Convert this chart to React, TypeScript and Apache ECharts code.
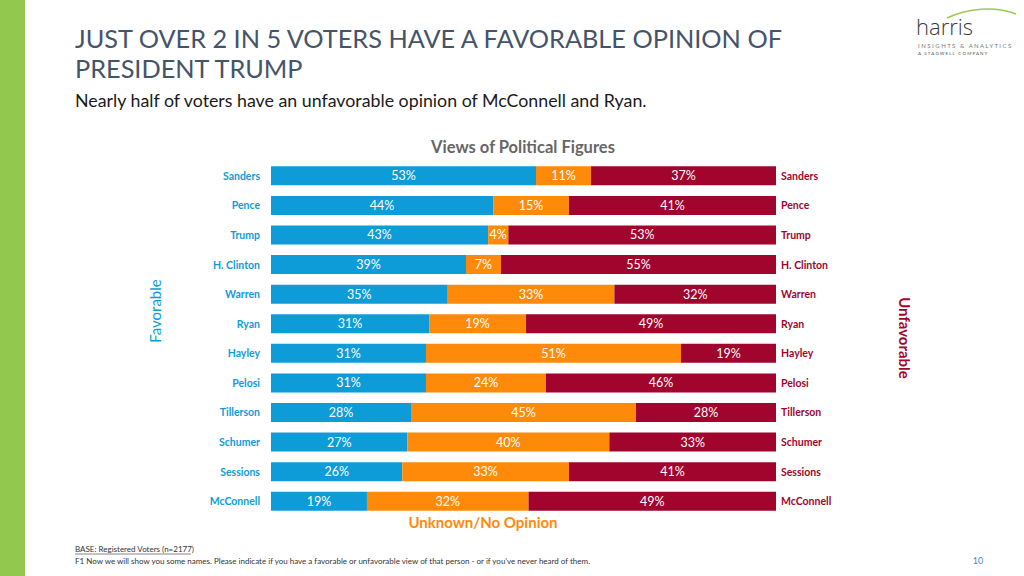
import React, { useEffect, useRef } from "react";
import * as echarts from "echarts";

const categories = ["Sanders", "Pence", "Trump", "H. Clinton", "Warren", "Ryan", "Hayley", "Pelosi", "Tillerson", "Schumer", "Sessions", "McConnell"];
const favorable = [53, 44, 43, 39, 35, 31, 31, 31, 28, 27, 26, 19];
const unknown = [11, 15, 4, 7, 33, 19, 51, 24, 45, 40, 33, 32];
const unfavorable = [37, 41, 53, 55, 32, 49, 19, 46, 28, 33, 41, 49];

const BLUE = "#0E9CD8";
const ORANGE = "#FF8A0A";
const RED = "#A1042D";
const FONT = "Lato, 'Open Sans', sans-serif";

export default function App() {
  const ref = useRef<HTMLDivElement>(null);
  useEffect(() => {
    if (!ref.current) return;
    const chart = echarts.init(ref.current, null, { renderer: "svg" });
    const totals = categories.map((_, i) => favorable[i] + unknown[i] + unfavorable[i]);
    const norm = (arr: number[]) => arr.map((v, i) => ({ value: (v / totals[i]) * 100, raw: v }));
    const mk = (name: string, arr: number[], color: string) => ({
      name,
      type: "bar",
      stack: "all",
      barWidth: 19,
      data: norm(arr),
      itemStyle: { color },
      label: {
        show: true,
        position: "inside",
        color: "#fff",
        fontSize: 12.5,
        fontFamily: FONT,
        formatter: (p: any) => p.data.raw + "%",
      },
    });
    chart.setOption({
      animation: false,
      backgroundColor: "#fff",
      grid: { left: 271, width: 505, top: 161, height: 355 },
      xAxis: { type: "value", min: 0, max: 100, show: false },
      yAxis: [
        {
          type: "category",
          data: categories,
          inverse: true,
          axisLine: { show: false },
          axisTick: { show: false },
          axisLabel: { color: BLUE, fontWeight: "bold", fontSize: 10.5, fontFamily: FONT, margin: 11 },
        },
        {
          type: "category",
          data: categories,
          inverse: true,
          position: "right",
          axisLine: { show: false },
          axisTick: { show: false },
          axisLabel: { color: RED, fontWeight: "bold", fontSize: 10.5, fontFamily: FONT, margin: 5, align: "left" },
        },
      ],
      series: [mk("Favorable", favorable, BLUE), mk("Unknown/No Opinion", unknown, ORANGE), mk("Unfavorable", unfavorable, RED)],
      graphic: [
        { type: "rect", shape: { x: 0, y: 0, width: 25, height: 576 }, style: { fill: "#92C84E" } },
        {
          type: "text",
          x: 75,
          y: 23,
          style: {
            text: "JUST OVER 2 IN 5 VOTERS HAVE A FAVORABLE OPINION OF\nPRESIDENT TRUMP",
            fontSize: 25.3,
            lineHeight: 30,
            fontFamily: FONT,
            fill: "#44546A",
          },
        },
        {
          type: "text",
          x: 75,
          y: 91,
          style: { text: "Nearly half of voters have an unfavorable opinion of McConnell and Ryan.", fontSize: 17.8, fontFamily: FONT, fill: "#1a1a1a" },
        },
        {
          type: "text",
          x: 523,
          y: 147,
          style: { text: "Views of Political Figures", fontSize: 16.5, fontWeight: "bold", fontFamily: FONT, fill: "#666666", align: "center", verticalAlign: "middle" },
        },
        {
          type: "text",
          x: 155,
          y: 311,
          rotation: Math.PI / 2,
          style: { text: "Favorable", fontSize: 15, fontFamily: FONT, fill: BLUE, align: "center", verticalAlign: "middle" },
        },
        {
          type: "text",
          x: 905,
          y: 338,
          rotation: -Math.PI / 2,
          style: { text: "Unfavorable", fontSize: 15, fontWeight: "bold", fontFamily: FONT, fill: RED, align: "center", verticalAlign: "middle" },
        },
        {
          type: "text",
          x: 483,
          y: 522,
          style: { text: "Unknown/No Opinion", fontSize: 15, fontWeight: "bold", fontFamily: FONT, fill: ORANGE, align: "center", verticalAlign: "middle" },
        },
        {
          type: "text",
          x: 75,
          y: 549,
          style: { text: "BASE: Registered Voters (n=2177)", fontSize: 8, fontFamily: FONT, fill: "#333", verticalAlign: "middle" },
        },
        { type: "line", shape: { x1: 75, y1: 554, x2: 191, y2: 554 }, style: { stroke: "#333", lineWidth: 0.6 } },
        {
          type: "text",
          x: 75,
          y: 561,
          style: {
            text: "F1 Now we will show you some names. Please indicate if you have a favorable or unfavorable view of that person - or if you've never heard of them.",
            fontSize: 8,
            fontFamily: FONT,
            fill: "#333",
            verticalAlign: "middle",
          },
        },
        {
          type: "text",
          x: 978,
          y: 560,
          style: { text: "10", fontSize: 9, fontFamily: FONT, fill: "#4E84C4", align: "center", verticalAlign: "middle" },
        },
        {
          type: "bezierCurve",
          shape: { x1: 947, y1: 18, cpx1: 968, cpy1: 8, cpx2: 995, cpy2: 6, x2: 1016, y2: 14 },
          style: { stroke: "#9CC95A", lineWidth: 1.6, fill: "none" },
        },
        {
          type: "text",
          x: 916,
          y: 26,
          style: { text: "harris", fontSize: 22, lineHeight: 22, fontFamily: "'Open Sans', sans-serif", fontWeight: 300, fill: "#3a3a3a", verticalAlign: "middle" },
        },
        {
          type: "text",
          x: 918,
          y: 45,
          style: { text: "I N S I G H T S   &   A N A L Y T I C S", fontSize: 6, lineHeight: 6, fontFamily: FONT, fill: "#777", verticalAlign: "middle" },
        },
        {
          type: "text",
          x: 918,
          y: 53,
          style: { text: "A   S T A G W E L L   C O M P A N Y", fontSize: 4.5, lineHeight: 5, fontFamily: FONT, fill: "#555", verticalAlign: "middle" },
        },
      ],
    });
    return () => chart.dispose();
  }, []);
  return <div ref={ref} style={{ position: "fixed", left: 0, top: 0, width: 1024, height: 576 }} />;
}
